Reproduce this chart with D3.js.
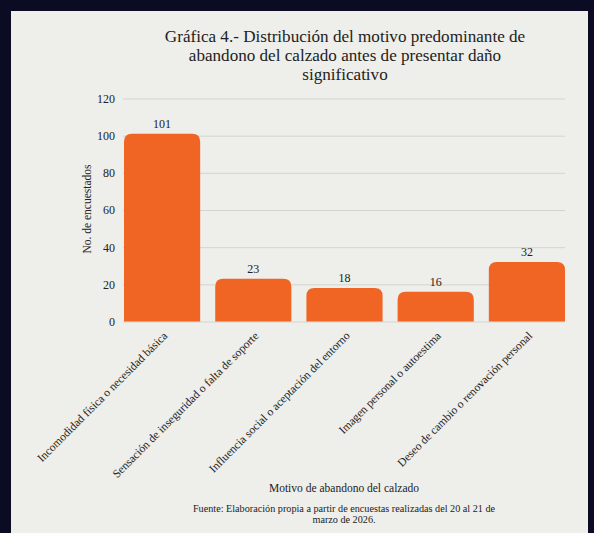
<!DOCTYPE html>
<html><head><meta charset="utf-8">
<script src="https://cdn.jsdelivr.net/npm/d3@7"></script>
<style>html,body{margin:0;padding:0;background:#0b0b24;}svg{display:block;}</style>
</head><body>
<script>
const categories = [
  "Incomodidad física o necesidad básica",
  "Sensación de inseguridad o falta de soporte",
  "Influencia social o aceptación del entorno",
  "Imagen personal o autoestima",
  "Deseo de cambio o renovación personal"
];
const values = [101, 23, 18, 16, 32];
const yTicks = [0, 20, 40, 60, 80, 100, 120];
const titleLines = [
  "Gráfica 4.- Distribución del motivo predominante de",
  "abandono del calzado antes de presentar daño",
  "significativo"
];
const yTitle = "No. de encuestados";
const xTitle = "Motivo de abandono del calzado";
const sourceLines = [
  "Fuente: Elaboración propia a partir de encuestas realizadas del 20 al 21 de",
  "marzo de 2026."
];

(function () {
const W = 594, H = 533;
const font = "Liberation Serif";
const svg = d3.select("body").append("svg").attr("width", W).attr("height", H);
svg.append("rect").attr("width", W).attr("height", H).attr("fill", "#0b0b24");
svg.append("rect").attr("x", 11).attr("y", 11).attr("width", 577).attr("height", 522).attr("fill", "#eeeeea");

const pLeft = 123, pRight = 565, pTop = 98.5, pBottom = 321.5;
const x = d3.scaleBand().domain(categories).range([pLeft + 1, pRight]).paddingInner(0.165).paddingOuter(0);
const y = d3.scaleLinear().domain([0, 120]).range([pBottom, pTop]);

// grid
const gAxis = svg.append("g").attr("transform", `translate(${pLeft},0)`)
  .call(d3.axisLeft(y).tickValues(yTicks).tickSize(-(pRight - pLeft)).tickPadding(8));
gAxis.attr("font-family", font);
gAxis.select(".domain").remove();
gAxis.selectAll(".tick line").attr("stroke", "#d4d4d0").attr("stroke-width", 1);
gAxis.selectAll(".tick text").attr("font-family", font).attr("font-size", 12).attr("fill", "#222");

// bars with rounded top corners
const r = 8;
svg.append("g").selectAll("path").data(values).join("path")
  .attr("fill", "#f06524")
  .attr("d", (d, i) => {
    const x0 = x(categories[i]), w = x.bandwidth(), y0 = y(d), y1 = y(0);
    return `M${x0},${y1}V${y0 + r}Q${x0},${y0} ${x0 + r},${y0}H${x0 + w - r}Q${x0 + w},${y0} ${x0 + w},${y0 + r}V${y1}Z`;
  });

// value labels
svg.append("g").selectAll("text").data(values).join("text")
  .attr("x", (d, i) => x(categories[i]) + x.bandwidth() / 2)
  .attr("y", d => y(d) - 6)
  .attr("text-anchor", "middle")
  .attr("font-family", font).attr("font-size", 12).attr("fill", "#222")
  .text(d => d);

// x axis
const gx = svg.append("g").attr("transform", `translate(0,${pBottom})`)
  .call(d3.axisBottom(x).tickSize(0).tickPadding(0));
gx.attr("font-family", font);
gx.select(".domain").remove();
gx.selectAll(".tick text")
  .attr("font-family", font).attr("font-size", 11.6).attr("fill", "#222")
  .attr("text-anchor", "end").attr("dy", 0).attr("y", 0)
  .attr("transform", "translate(6,15) rotate(-45)");

// y title
svg.append("text")
  .attr("transform", `translate(91,209) rotate(-90)`)
  .attr("text-anchor", "middle")
  .attr("font-family", font).attr("font-size", 11.5).attr("fill", "#222")
  .text(yTitle);

// title
svg.append("text").attr("text-anchor", "middle").attr("font-family", font).attr("font-size", 17.1).attr("fill", "#222")
  .selectAll("tspan").data(titleLines).join("tspan")
  .attr("x", 345).attr("y", (d, i) => 41.5 + i * 19.3).text(d => d);

// x title
svg.append("text").attr("x", 344).attr("y", 492).attr("text-anchor", "middle")
  .attr("font-family", font).attr("font-size", 11.5).attr("fill", "#222").text(xTitle);

// source
svg.append("text").attr("text-anchor", "middle").attr("font-family", font).attr("font-size", 10.2).attr("fill", "#222")
  .selectAll("tspan").data(sourceLines).join("tspan")
  .attr("x", 344).attr("y", (d, i) => 512 + i * 11).text(d => d);
})();
</script>
</body></html>
